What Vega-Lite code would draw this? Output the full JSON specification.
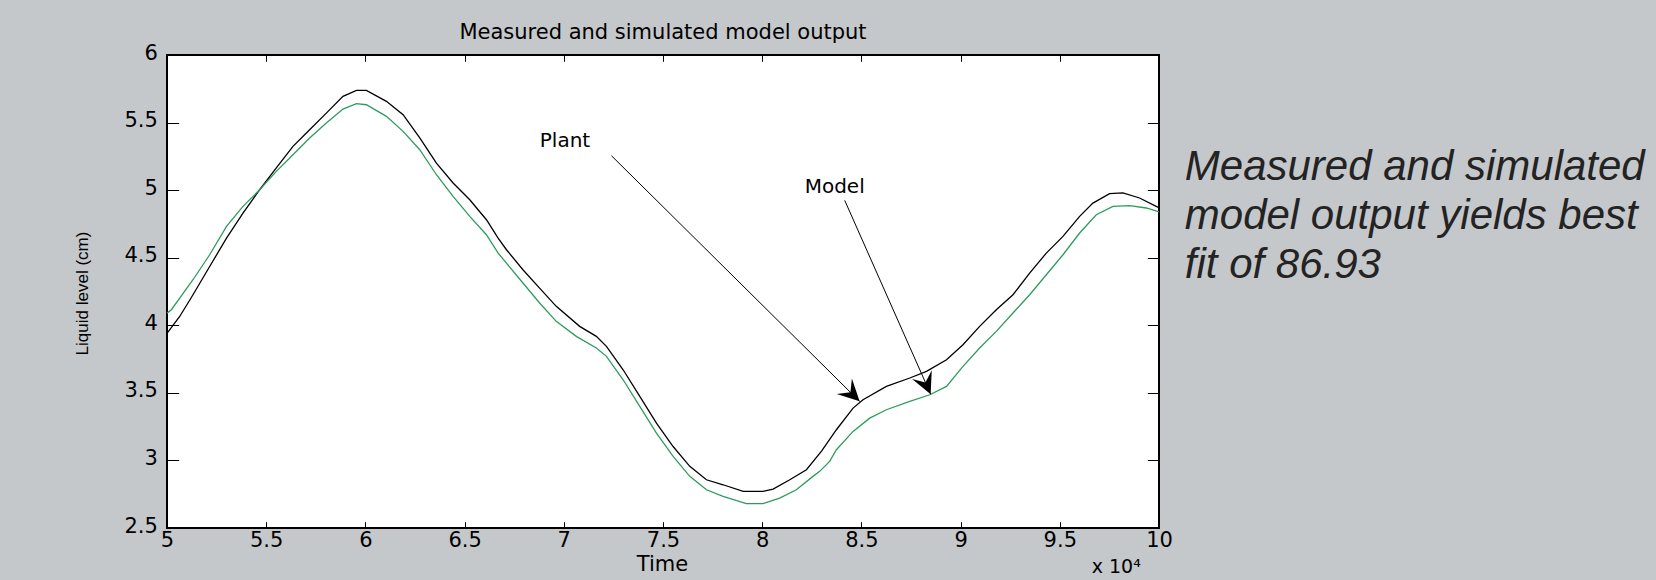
{
  "$schema": "https://vega.github.io/schema/vega-lite/v6.json",
  "width": 992,
  "height": 473,
  "autosize": {"type": "none"},
  "padding": {"left": 167, "top": 55, "right": 497, "bottom": 52},
  "background": "#c5c8cb",
  "title": {"text": "Measured and simulated model output", "font": "DejaVu Sans", "fontSize": 21, "fontWeight": "normal", "color": "#000", "anchor": "middle", "baseline": "alphabetic", "offset": 17, "dy": 35},
  "config": {
    "view": {"stroke": "#000", "strokeWidth": 2, "fill": "#ffffff"},
    "axis": {"labelFont": "DejaVu Sans", "labelFontSize": 21, "labelColor": "#000", "tickColor": "#000", "tickWidth": 1, "grid": false, "domain": false, "labelFlush": false, "labelOverlap": false, "titleColor": "#000", "titleFontWeight": "normal"}
  },
  "datasets": {
    "plant": [
      {"t": 5.0, "level": 3.94}, {"t": 5.064, "level": 4.065}, {"t": 5.131, "level": 4.226}, {"t": 5.215, "level": 4.435},
      {"t": 5.30, "level": 4.645}, {"t": 5.383, "level": 4.83}, {"t": 5.467, "level": 5.003}, {"t": 5.551, "level": 5.164},
      {"t": 5.635, "level": 5.324}, {"t": 5.719, "level": 5.447}, {"t": 5.803, "level": 5.57}, {"t": 5.887, "level": 5.694},
      {"t": 5.955, "level": 5.738}, {"t": 6.005, "level": 5.738}, {"t": 6.106, "level": 5.657}, {"t": 6.19, "level": 5.558},
      {"t": 6.274, "level": 5.386}, {"t": 6.358, "level": 5.2}, {"t": 6.442, "level": 5.053}, {"t": 6.526, "level": 4.929},
      {"t": 6.61, "level": 4.781}, {"t": 6.669, "level": 4.645}, {"t": 6.711, "level": 4.559}, {"t": 6.794, "level": 4.411},
      {"t": 6.878, "level": 4.275}, {"t": 6.962, "level": 4.14}, {"t": 7.08, "level": 3.992}, {"t": 7.164, "level": 3.918},
      {"t": 7.215, "level": 3.844}, {"t": 7.299, "level": 3.671}, {"t": 7.383, "level": 3.474}, {"t": 7.467, "level": 3.276},
      {"t": 7.551, "level": 3.103}, {"t": 7.635, "level": 2.956}, {"t": 7.719, "level": 2.857}, {"t": 7.803, "level": 2.82},
      {"t": 7.904, "level": 2.771}, {"t": 8.004, "level": 2.771}, {"t": 8.055, "level": 2.788}, {"t": 8.139, "level": 2.857},
      {"t": 8.223, "level": 2.931}, {"t": 8.30, "level": 3.07}, {"t": 8.374, "level": 3.227}, {"t": 8.458, "level": 3.387},
      {"t": 8.508, "level": 3.449}, {"t": 8.626, "level": 3.548}, {"t": 8.744, "level": 3.61}, {"t": 8.828, "level": 3.659},
      {"t": 8.929, "level": 3.745}, {"t": 9.012, "level": 3.856}, {"t": 9.096, "level": 3.992}, {"t": 9.18, "level": 4.115},
      {"t": 9.264, "level": 4.226}, {"t": 9.348, "level": 4.386}, {"t": 9.432, "level": 4.534}, {"t": 9.516, "level": 4.658},
      {"t": 9.6, "level": 4.806}, {"t": 9.667, "level": 4.904}, {"t": 9.751, "level": 4.974}, {"t": 9.818, "level": 4.98},
      {"t": 9.902, "level": 4.942}, {"t": 9.986, "level": 4.88}, {"t": 10.0, "level": 4.87}
    ],
    "model": [
      {"t": 5.0, "level": 4.09}, {"t": 5.022, "level": 4.115}, {"t": 5.131, "level": 4.337}, {"t": 5.215, "level": 4.522},
      {"t": 5.30, "level": 4.732}, {"t": 5.383, "level": 4.88}, {"t": 5.467, "level": 5.003}, {"t": 5.551, "level": 5.139},
      {"t": 5.635, "level": 5.262}, {"t": 5.719, "level": 5.386}, {"t": 5.803, "level": 5.497}, {"t": 5.887, "level": 5.6},
      {"t": 5.955, "level": 5.64}, {"t": 6.005, "level": 5.632}, {"t": 6.106, "level": 5.546}, {"t": 6.19, "level": 5.435},
      {"t": 6.274, "level": 5.299}, {"t": 6.358, "level": 5.114}, {"t": 6.442, "level": 4.954}, {"t": 6.526, "level": 4.806},
      {"t": 6.61, "level": 4.67}, {"t": 6.669, "level": 4.534}, {"t": 6.711, "level": 4.46}, {"t": 6.794, "level": 4.313},
      {"t": 6.878, "level": 4.165}, {"t": 6.962, "level": 4.029}, {"t": 7.063, "level": 3.918}, {"t": 7.164, "level": 3.832},
      {"t": 7.215, "level": 3.77}, {"t": 7.299, "level": 3.597}, {"t": 7.383, "level": 3.4}, {"t": 7.467, "level": 3.202},
      {"t": 7.551, "level": 3.03}, {"t": 7.635, "level": 2.882}, {"t": 7.719, "level": 2.783}, {"t": 7.803, "level": 2.734},
      {"t": 7.92, "level": 2.68}, {"t": 8.004, "level": 2.68}, {"t": 8.088, "level": 2.721}, {"t": 8.172, "level": 2.783},
      {"t": 8.256, "level": 2.882}, {"t": 8.29, "level": 2.919}, {"t": 8.34, "level": 2.993}, {"t": 8.374, "level": 3.079},
      {"t": 8.458, "level": 3.215}, {"t": 8.542, "level": 3.313}, {"t": 8.626, "level": 3.375}, {"t": 8.744, "level": 3.437},
      {"t": 8.845, "level": 3.486}, {"t": 8.929, "level": 3.548}, {"t": 9.012, "level": 3.696}, {"t": 9.096, "level": 3.832},
      {"t": 9.18, "level": 3.955}, {"t": 9.264, "level": 4.091}, {"t": 9.348, "level": 4.226}, {"t": 9.432, "level": 4.374},
      {"t": 9.516, "level": 4.522}, {"t": 9.6, "level": 4.683}, {"t": 9.684, "level": 4.818}, {"t": 9.768, "level": 4.88},
      {"t": 9.852, "level": 4.885}, {"t": 9.936, "level": 4.868}, {"t": 10.0, "level": 4.84}
    ],
    "arrows": [
      {"name": "Plant", "x0": 7.24, "y0": 5.255, "x1": 8.491, "y1": 3.437},
      {"name": "Model", "x0": 8.416, "y0": 4.924, "x1": 8.849, "y1": 3.49}
    ],
    "labels": [
      {"text": "Plant", "x": 6.879, "y": 5.321},
      {"text": "Model", "x": 8.214, "y": 4.981}
    ],
    "notes": [
      {"text": "Measured and simulated", "x": 10.13, "y": 5.077},
      {"text": "model output yields best", "x": 10.13, "y": 4.712},
      {"text": "fit of 86.93", "x": 10.13, "y": 4.348}
    ],
    "exponent": [
      {"text": "x 10⁴", "x": 9.661, "y": 2.165}
    ]
  },
  "layer": [
    {
      "data": {"name": "plant"},
      "mark": {"type": "line", "color": "#000000", "strokeWidth": 1.3},
      "encoding": {
        "x": {"field": "t", "type": "quantitative", "scale": {"domain": [5, 10], "nice": false, "zero": false},
              "axis": {"orient": "bottom", "values": [5, 5.5, 6, 6.5, 7, 7.5, 8, 8.5, 9, 9.5, 10], "format": "~g", "tickSize": -6.3, "labelPadding": 8, "labelBaseline": "top",
                       "title": "Time", "titleFont": "DejaVu Sans", "titleFontSize": 21, "titleX": 495, "titleY": 42, "titleBaseline": "alphabetic", "titleAlign": "center"}},
        "y": {"field": "level", "type": "quantitative", "scale": {"domain": [2.5, 6], "nice": false, "zero": false},
              "axis": {"orient": "left", "values": [2.5, 3, 3.5, 4, 4.5, 5, 5.5, 6], "format": "~g", "tickSize": -11.7, "labelPadding": 21.3, "labelBaseline": "middle", "labelOffset": -2,
                       "title": "Liquid level (cm)", "titleFont": "Liberation Sans", "titleFontSize": 17, "titleX": -85, "titleY": 238, "titleAngle": 270, "titleBaseline": "middle", "titleAlign": "center"}}
      }
    },
    {
      "data": {"name": "model"},
      "mark": {"type": "line", "color": "#2e9b5e", "strokeWidth": 1.3},
      "encoding": {
        "x": {"field": "t", "type": "quantitative", "scale": {"domain": [5, 10], "nice": false, "zero": false},
              "axis": {"orient": "top", "values": [5, 5.5, 6, 6.5, 7, 7.5, 8, 8.5, 9, 9.5, 10], "labels": false, "tickSize": -6.3, "title": null}},
        "y": {"field": "level", "type": "quantitative", "scale": {"domain": [2.5, 6], "nice": false, "zero": false},
              "axis": {"orient": "right", "values": [2.5, 3, 3.5, 4, 4.5, 5, 5.5, 6], "labels": false, "tickSize": -11.7, "title": null}}
      }
    },
    {
      "data": {"name": "arrows"},
      "mark": {"type": "rule", "color": "#000000", "strokeWidth": 1},
      "encoding": {
        "x": {"field": "x0", "type": "quantitative", "scale": {"domain": [5, 10]}, "axis": null},
        "y": {"field": "y0", "type": "quantitative", "scale": {"domain": [2.5, 6]}, "axis": null},
        "x2": {"field": "x1"},
        "y2": {"field": "y1"}
      }
    },
    {
      "data": {"name": "arrows"},
      "transform": [{"filter": "datum.name == 'Plant'"}],
      "mark": {"type": "point", "shape": "M0,0L-2,-1L-1.2,0L-2,1Z", "filled": true, "color": "#000000", "opacity": 1, "size": 462, "angle": 44.7, "strokeWidth": 0},
      "encoding": {
        "x": {"field": "x1", "type": "quantitative", "scale": {"domain": [5, 10]}, "axis": null},
        "y": {"field": "y1", "type": "quantitative", "scale": {"domain": [2.5, 6]}, "axis": null}
      }
    },
    {
      "data": {"name": "arrows"},
      "transform": [{"filter": "datum.name == 'Model'"}],
      "mark": {"type": "point", "shape": "M0,0L-2,-1L-1.2,0L-2,1Z", "filled": true, "color": "#000000", "opacity": 1, "size": 462, "angle": 66.1, "strokeWidth": 0},
      "encoding": {
        "x": {"field": "x1", "type": "quantitative", "scale": {"domain": [5, 10]}, "axis": null},
        "y": {"field": "y1", "type": "quantitative", "scale": {"domain": [2.5, 6]}, "axis": null}
      }
    },
    {
      "data": {"name": "labels"},
      "mark": {"type": "text", "font": "DejaVu Sans", "fontSize": 20, "align": "left", "baseline": "alphabetic", "color": "#000000"},
      "encoding": {
        "x": {"field": "x", "type": "quantitative", "scale": {"domain": [5, 10]}, "axis": null},
        "y": {"field": "y", "type": "quantitative", "scale": {"domain": [2.5, 6]}, "axis": null},
        "text": {"field": "text"}
      }
    },
    {
      "data": {"name": "notes"},
      "mark": {"type": "text", "font": "Liberation Sans", "fontStyle": "italic", "fontSize": 42, "align": "left", "baseline": "alphabetic", "color": "#232323"},
      "encoding": {
        "x": {"field": "x", "type": "quantitative", "scale": {"domain": [5, 10]}, "axis": null},
        "y": {"field": "y", "type": "quantitative", "scale": {"domain": [2.5, 6]}, "axis": null},
        "text": {"field": "text"}
      }
    },
    {
      "data": {"name": "exponent"},
      "mark": {"type": "text", "font": "DejaVu Sans", "fontSize": 19, "align": "left", "baseline": "alphabetic", "color": "#000000"},
      "encoding": {
        "x": {"field": "x", "type": "quantitative", "scale": {"domain": [5, 10]}, "axis": null},
        "y": {"field": "y", "type": "quantitative", "scale": {"domain": [2.5, 6]}, "axis": null},
        "text": {"field": "text"}
      }
    }
  ],
  "resolve": {"axis": {"x": "independent", "y": "independent"}}
}
